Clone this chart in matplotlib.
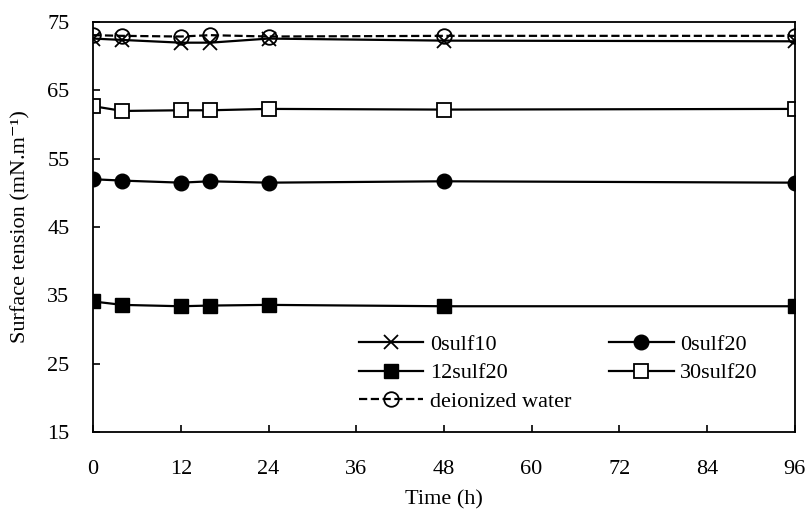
import matplotlib
matplotlib.use("Agg")
import matplotlib.pyplot as plt

plt.rcParams["font.family"] = ["Liberation Serif", "DejaVu Serif"]

time_h = [0, 4, 12, 16, 24, 48, 96]
sulf0_10 = [72.6, 72.4, 72.0, 72.0, 72.6, 72.3, 72.2]
sulf0_20 = [52.0, 51.8, 51.5, 51.7, 51.5, 51.7, 51.5]
sulf12_20 = [34.1, 33.6, 33.4, 33.5, 33.6, 33.4, 33.4]
sulf30_20 = [62.7, 62.0, 62.1, 62.1, 62.3, 62.2, 62.3]
water = [73.1, 73.0, 72.9, 73.1, 72.9, 73.0, 73.0]

fig = plt.figure(figsize=(8.1, 5.16), dpi=100)
ax = fig.add_axes([0.115, 0.163, 0.866, 0.794])

lw = 1.6
ms = 10.5
h1, = ax.plot(time_h, sulf0_10, color="black", lw=lw, marker="x", ms=9.5, mew=1.3, label="0sulf10")
h2, = ax.plot(time_h, sulf0_20, color="black", lw=lw, marker="o", ms=ms, label="0sulf20")
h3, = ax.plot(time_h, sulf12_20, color="black", lw=lw, marker="s", ms=ms, label="12sulf20")
h4, = ax.plot(time_h, sulf30_20, color="black", lw=lw, marker="s", ms=ms, mfc="white", mew=1.3, label="30sulf20")
h5, = ax.plot(time_h, water, color="black", lw=lw, ls="--", marker="o", ms=ms, mfc="none", mew=1.3, label="deionized water")

ax.set_xlim(0, 96)
ax.set_ylim(15, 75)
ax.set_xticks(range(0, 97, 12))
ax.set_yticks(range(15, 76, 10))
ax.tick_params(direction="in", length=5, width=1.2, labelsize=16)
ax.tick_params(axis="x", pad=20)
ax.tick_params(axis="y", pad=17)
for s in ax.spines.values():
    s.set_linewidth(1.3)

ax.set_xlabel("Time (h)", fontsize=16, labelpad=8)
ax.set_ylabel("Surface tension (mN.m\u207b\u00b9)", fontsize=16, labelpad=12)

# column-major order so rows read 0sulf10/0sulf20, 12sulf20/30sulf20, water
handles = [h1, h3, h5, h2, h4]
ax.legend(handles=handles, labels=[h.get_label() for h in handles], ncol=2,
          frameon=False, fontsize=16, loc="upper left",
          bbox_to_anchor=(0.363, 0.266), borderpad=0, handlelength=2.9,
          handletextpad=0.3, columnspacing=1.7, labelspacing=0.37)

fig.savefig("out.png", dpi=100)
